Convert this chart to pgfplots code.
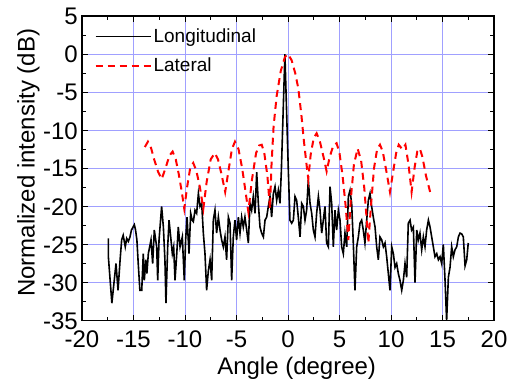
\documentclass[border=0pt]{standalone}
\usepackage{pgfplots}
\pgfplotsset{compat=1.18}
\usepackage{fontspec}
\setmainfont{Liberation Sans}
\definecolor{gridblue}{RGB}{160,160,255}
\definecolor{latred}{RGB}{255,0,0}

\begin{document}
\begin{tikzpicture}
\begin{axis}[
  scale only axis, width=412pt, height=304.7pt,
  xmin=-20, xmax=20, ymin=-35, ymax=5,
  xtick={-20,-15,...,20}, ytick={-35,-30,...,5},
  minor x tick num=1, minor y tick num=1,
  tick pos=both, tick align=inside,
  major tick length=6pt, minor tick length=4pt,
  every tick/.style={black, line width=1pt},
  axis line style={line width=1.6pt},
  grid=major, major grid style={gridblue, line width=0.8pt},
  /pgf/number format/assume math mode=true,
  tick label style={font=\fontsize{24}{28}\selectfont},
  xticklabel style={inner sep=0pt, anchor=north, yshift=-10pt},
  yticklabel style={inner sep=0pt, anchor=east, xshift=-4pt, yshift=-0.5pt},
  xlabel={Angle (degree)}, ylabel={Normalized intensity (dB)},
  label style={font=\fontsize{24}{28}\selectfont},
  xlabel style={at={(axis description cs:0.521,-0.155)}, anchor=center},
  ylabel style={at={(axis description cs:-0.13,0.518)}, anchor=center},
  legend style={draw=none, fill=none, at={(axis description cs:0.03,0.965)}, anchor=north west,
    font=\fontsize{19}{22}\selectfont, row sep=10pt, inner sep=0pt},
  legend cell align=left,
  legend image code/.code={\draw (0pt,0pt) -- (55pt,0pt);},
]
\addplot[black, line width=1.6pt] coordinates {
(-17.44,-24.2) (-17.44,-26.6) (-17.1,-32.7) (-16.7,-27.5) (-16.5,-31.0) (-16.3,-27.0)
(-16.15,-24.4) (-16.0,-23.8) (-15.8,-25.3) (-15.66,-24.2) (-15.5,-24.6) (-15.34,-24.0)
(-15.2,-23.1) (-14.92,-22.4) (-14.8,-23.1) (-14.67,-24.4) (-14.54,-27.5) (-14.38,-31.0)
(-14.2,-31.0) (-14.05,-26.2) (-13.95,-29.7) (-13.8,-27.0) (-13.7,-28.8) (-13.56,-26.2)
(-13.3,-24.4) (-13.14,-27.5) (-12.98,-23.1) (-12.75,-25.3) (-12.65,-29.7) (-12.52,-24.4)
(-12.27,-20.0) (-12.1,-22.7) (-11.95,-27.0) (-11.85,-32.7) (-11.68,-25.3) (-11.55,-21.8)
(-11.36,-24.4) (-11.23,-26.2) (-11.1,-25.3) (-10.97,-29.7) (-10.8,-26.2) (-10.65,-22.7)
(-10.48,-25.3) (-10.26,-24.0) (-10.07,-29.7) (-9.94,-24.4) (-9.8,-21.4) (-9.61,-26.2)
(-9.45,-20.9) (-9.3,-21.8) (-9.19,-22.0) (-9.03,-20.5) (-8.87,-20.9) (-8.7,-18.3)
(-8.54,-20.0) (-8.38,-19.6) (-8.22,-23.5) (-8.06,-26.2) (-7.9,-31.0) (-7.73,-28.4)
(-7.57,-27.0) (-7.41,-29.7) (-7.25,-21.8) (-7.09,-20.5) (-6.93,-23.5) (-6.76,-21.4)
(-6.6,-23.1) (-6.44,-24.4) (-6.28,-25.3) (-6.12,-24.0) (-5.96,-27.0) (-5.79,-21.4)
(-5.63,-22.2) (-5.47,-29.7) (-5.31,-24.0) (-5.15,-21.8) (-4.99,-24.4) (-4.82,-21.4)
(-4.66,-23.5) (-4.5,-21.4) (-4.34,-22.7) (-4.18,-21.4) (-4.01,-23.1) (-3.85,-24.8)
(-3.69,-19.6) (-3.53,-20.5) (-3.37,-18.7) (-3.2,-20.9) (-3.04,-15.5) (-2.88,-19.6)
(-2.72,-22.7) (-2.56,-23.5) (-2.39,-24.0) (-2.23,-21.8) (-2.07,-21.4) (-1.91,-20.0)
(-1.75,-18.7) (-1.59,-21.4) (-1.42,-18.3) (-1.26,-17.4) (-1.1,-19.2) (-0.94,-17.9)
(-0.78,-19.6) (-0.65,-15.5) (-0.3,0.0) (0.03,-15.2) (0.19,-21.8) (0.36,-22.2)
(0.52,-21.8) (0.68,-18.7) (0.84,-19.2) (1.0,-21.4) (1.17,-24.0) (1.33,-19.6)
(1.49,-20.0) (1.65,-21.8) (1.81,-20.5) (1.97,-16.5) (2.14,-19.6) (2.3,-20.9)
(2.46,-23.1) (2.62,-24.0) (2.78,-20.9) (2.95,-18.7) (3.11,-20.5) (3.27,-23.5)
(3.43,-21.8) (3.59,-20.0) (3.75,-24.8) (3.92,-25.3) (4.08,-17.4) (4.24,-19.6)
(4.4,-25.3) (4.56,-20.5) (4.72,-23.1) (4.89,-20.5) (5.05,-21.8) (5.21,-25.3)
(5.37,-26.2) (5.53,-23.5) (5.7,-25.3) (5.86,-18.7) (6.02,-17.9) (6.18,-19.6)
(6.34,-24.8) (6.5,-31.0) (6.67,-25.3) (6.83,-24.0) (6.99,-22.2) (7.15,-21.8)
(7.31,-23.1) (7.47,-24.8) (7.64,-21.8) (7.8,-19.2) (7.96,-18.3) (8.12,-20.0)
(8.28,-21.4) (8.45,-22.7) (8.61,-25.3) (8.77,-27.0) (8.93,-24.0) (9.1,-24.4)
(9.26,-25.3) (9.42,-24.8) (9.58,-26.6) (9.74,-28.8) (9.9,-31.0) (10.07,-25.3)
(10.23,-26.2) (10.39,-28.0) (10.55,-27.5) (10.71,-28.8) (10.87,-29.7) (11.04,-31.0)
(11.2,-29.7) (11.36,-27.5) (11.52,-29.3) (11.68,-22.2) (11.85,-21.8) (12.0,-23.1)
(12.17,-22.7) (12.33,-30.0) (12.5,-23.1) (12.65,-24.4) (12.81,-23.5) (12.98,-25.7)
(13.14,-24.0) (13.3,-25.3) (13.46,-23.1) (13.63,-21.8) (13.79,-22.7) (13.95,-24.0)
(14.11,-25.3) (14.27,-26.6) (14.44,-26.2) (14.6,-27.0) (14.76,-26.6) (14.92,-27.5)
(15.08,-25.0) (15.24,-29.5) (15.4,-35.0) (15.57,-29.3) (15.73,-28.0) (15.89,-25.3)
(16.05,-26.6) (16.21,-25.7) (16.38,-25.3) (16.54,-24.0) (16.7,-23.5) (16.86,-23.6)
(17.02,-24.0) (17.19,-27.8) (17.35,-27.0) (17.5,-24.8)
};
\addlegendentry{Longitudinal}
\addplot[latred, line width=2pt, dash pattern=on 7pt off 5pt] coordinates {
(-13.9,-12.2) (-13.6,-11.5) (-13.3,-12.3) (-13.0,-13.8) (-12.6,-15.5) (-12.26,-16.4)
(-11.9,-15.0) (-11.5,-13.3) (-11.2,-12.8) (-10.9,-13.8) (-10.6,-15.8) (-10.3,-18.2)
(-10.07,-20.3) (-9.8,-17.5) (-9.5,-15.0) (-9.2,-14.3) (-8.9,-15.3) (-8.55,-17.5)
(-8.22,-20.3) (-7.9,-16.8) (-7.5,-13.8) (-7.1,-13.0) (-6.8,-13.8) (-6.45,-15.8)
(-6.1,-18.1) (-5.8,-15.5) (-5.45,-12.5) (-5.15,-11.5) (-4.8,-12.5) (-4.45,-15.0)
(-4.15,-17.8) (-3.85,-20.7) (-3.5,-16.5) (-3.1,-13.0) (-2.8,-12.0) (-2.55,-11.9)
(-2.3,-13.0) (-2.0,-16.0) (-1.75,-20.3) (-1.6,-14.5) (-1.4,-9.5) (-1.1,-5.5)
(-0.7,-2.2) (-0.3,-0.4) (0.0,0.0) (0.35,-0.8) (0.7,-2.5) (1.0,-4.5)
(1.3,-8.0) (1.55,-11.5) (1.8,-14.5) (1.97,-16.4) (2.2,-13.2) (2.5,-11.0)
(2.78,-10.4) (3.1,-11.5) (3.45,-13.5) (3.75,-15.4) (4.05,-13.5) (4.4,-12.0)
(4.72,-11.7) (5.0,-13.0) (5.3,-16.0) (5.6,-20.0) (5.86,-24.4) (6.1,-19.0)
(6.4,-14.5) (6.76,-12.4) (7.1,-14.0) (7.4,-17.5) (7.6,-21.0) (7.8,-24.8)
(8.05,-20.0) (8.35,-15.0) (8.65,-12.5) (8.93,-11.9) (9.2,-12.8) (9.5,-15.0)
(9.9,-18.1) (10.2,-15.5) (10.5,-13.0) (10.75,-11.9) (11.1,-12.5) (11.4,-11.9)
(11.7,-14.5) (12.0,-18.1) (12.3,-14.8) (12.55,-12.8) (12.8,-12.4) (13.05,-13.5)
(13.4,-16.0) (13.8,-18.1)
};
\addlegendentry{Lateral}
\end{axis}
\pgfresetboundingbox
\path (current axis.south west) ++(-82pt,-58.3pt) rectangle ++(513pt,379pt);
\end{tikzpicture}
\end{document}
